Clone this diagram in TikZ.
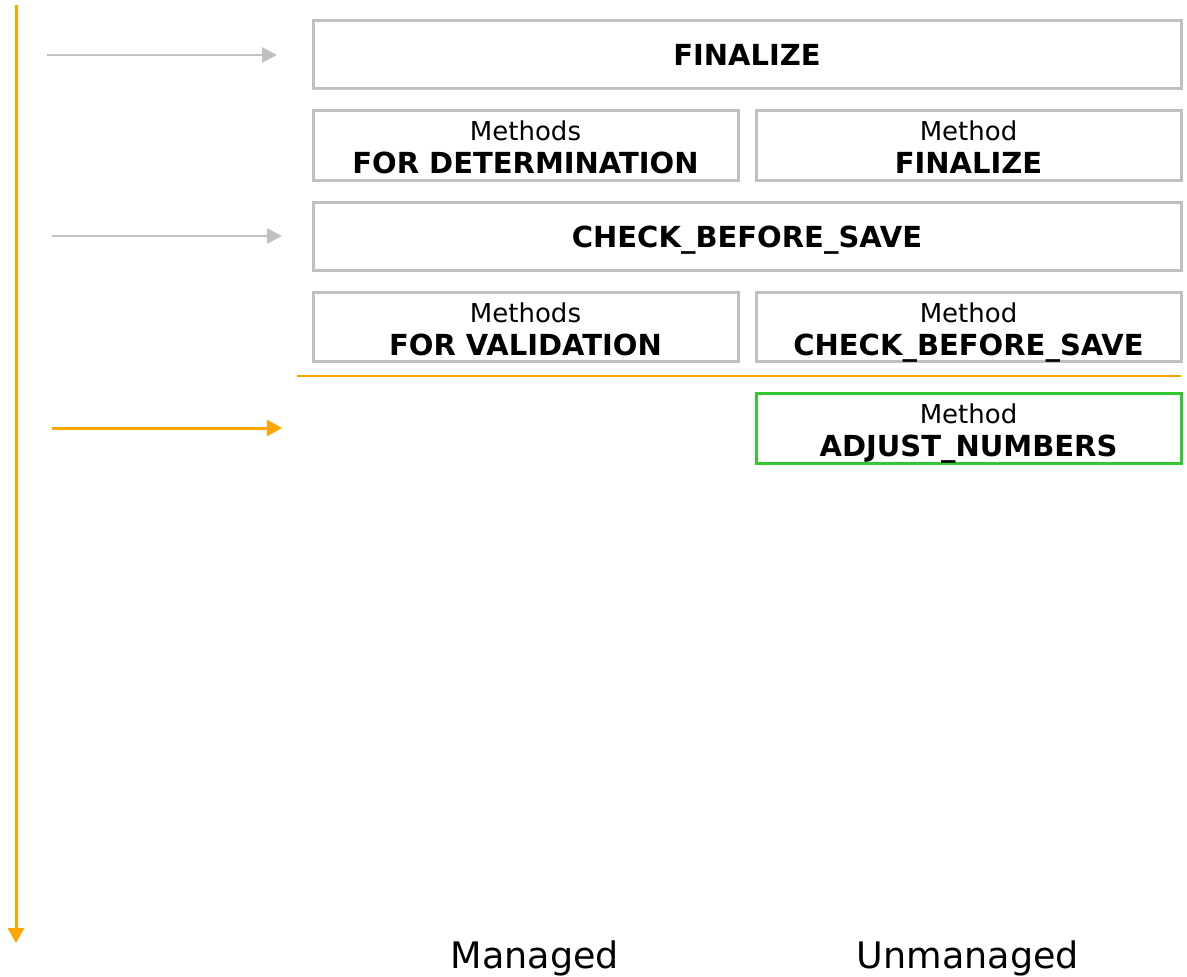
\documentclass[tikz,border=0pt]{standalone}
\usepackage{fontspec}
\setmainfont{DejaVu Sans}
\usetikzlibrary{arrows.meta}
\definecolor{boxgray}{RGB}{192,192,192}
\definecolor{flow}{RGB}{255,165,0}
\definecolor{okgreen}{RGB}{50,200,50}
\tikzset{
  x=1pt, y=-1pt,
  box/.style={draw=boxgray, line width=3pt},
  greenbox/.style={draw=okgreen, line width=3pt},
  reg/.style={anchor=base, inner sep=0pt, font=\fontsize{26}{30}\selectfont},
  bld/.style={anchor=base, inner sep=0pt, font=\fontsize{29}{34}\selectfont\bfseries},
  col/.style={anchor=base, inner sep=0pt, font=\fontsize{36.5}{42}\selectfont},
  grayarrow/.style={draw=boxgray, line width=2.8pt, -{Triangle[length=15pt,width=15pt]}},
  orangearrow/.style={draw=flow, line width=3pt, -{Triangle[length=15pt,width=16pt]}},
}
\begin{document}
\begin{tikzpicture}
\useasboundingbox (0,0) rectangle (1187,977);
% boxes
\draw[box] (313,20) rectangle (1181,88);
\node[bld] (finalize) at (747,65.5) {FINALIZE};
\draw[box] (313,110) rectangle (738,180);
\node[reg] (mdet1) at (525.5,140) {Methods};
\node[bld] (mdet2) at (525.5,173) {FOR DETERMINATION};
\draw[box] (756,110) rectangle (1181,180);
\node[reg] (mfin1) at (968.5,140) {Method};
\node[bld] (mfin2) at (968.5,173) {FINALIZE};
\draw[box] (313,202) rectangle (1181,270);
\node[bld] (cbs) at (747,247.5) {CHECK\_BEFORE\_SAVE};
\draw[box] (313,292) rectangle (738,361);
\node[reg] (mval1) at (525.5,322) {Methods};
\node[bld] (mval2) at (525.5,355.5) {FOR VALIDATION};
\draw[box] (756,292) rectangle (1181,361);
\node[reg] (mcbs1) at (968.5,322) {Method};
\node[bld] (mcbs2) at (968.5,355.5) {CHECK\_BEFORE\_SAVE};
\draw[greenbox] (756,393) rectangle (1181,463);
\node[reg] (madj1) at (968.5,423) {Method};
\node[bld] (madj2) at (968.5,456.5) {ADJUST\_NUMBERS};
% separator
\coordinate (sepA) at (297,376);
\coordinate (sepB) at (1181,376);
\draw[flow, line width=2pt] (sepA) -- (sepB);
% timeline
\coordinate (tTop) at (16,5);
\coordinate (tBot) at (16,943);
\draw[orangearrow] (tTop) -- (tBot);
% arrows
\coordinate (a1s) at (47,55);
\coordinate (a1e) at (277,55);
\draw[grayarrow] (a1s) -- (a1e);
\coordinate (a2s) at (52,236);
\coordinate (a2e) at (282,236);
\draw[grayarrow] (a2s) -- (a2e);
\coordinate (a3s) at (52,428);
\coordinate (a3e) at (282,428);
\draw[orangearrow] (a3s) -- (a3e);
% column labels
\node[col] (managed) at (535,968) {Managed};
\node[col] (unmanaged) at (968,968) {Unmanaged};
\end{tikzpicture}
\end{document}
